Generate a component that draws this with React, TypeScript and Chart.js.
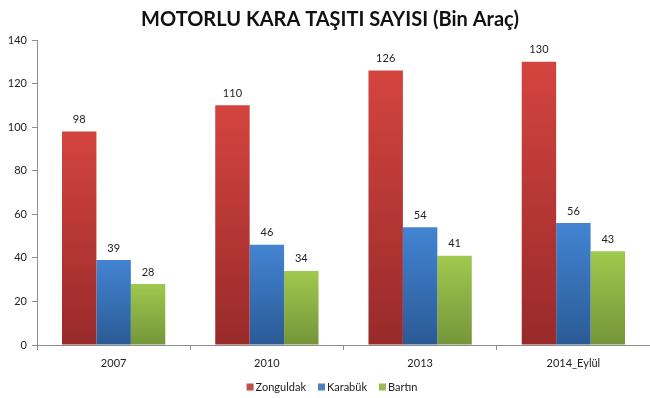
import React, { useEffect, useRef } from 'react';
import { Chart, registerables } from 'chart.js';

Chart.register(...registerables);

const title = 'MOTORLU KARA TAŞITI SAYISI (Bin Araç)';
const categories = ['2007', '2010', '2013', '2014_Eylül'];
const seriesNames = ['Zonguldak', 'Karabük', 'Bartın'];
const zonguldak = [98, 110, 126, 130];
const karabuk = [39, 46, 54, 56];
const bartin = [28, 34, 41, 43];
const yMin = 0;
const yMax = 140;
const yStep = 20;

const FONT = 'Lato, "Open Sans", sans-serif';
const gradients = [
  ['#d4443f', '#982a2a'],
  ['#4384d2', '#2a5a95'],
  ['#a0c94e', '#74953a'],
];
const legendColors = ['#c0504d', '#4f81bd', '#9bbb59'];

function barFill(idx: number) {
  return (ctx: any) => {
    const chart = ctx.chart;
    const y = chart.scales && chart.scales.y;
    if (!y || ctx.type !== 'data') return legendColors[idx];
    const v = ctx.raw as number;
    const top = y.getPixelForValue(v);
    const bottom = y.getPixelForValue(0);
    if (!isFinite(top) || !isFinite(bottom) || top === bottom) return legendColors[idx];
    const g = chart.ctx.createLinearGradient(0, top, 0, bottom);
    g.addColorStop(0, gradients[idx][0]);
    g.addColorStop(1, gradients[idx][1]);
    return g;
  };
}

const valueLabels = {
  id: 'valueLabels',
  afterDatasetsDraw(chart: any) {
    const ctx = chart.ctx;
    ctx.save();
    ctx.font = `11px ${FONT}`;
    ctx.fillStyle = '#222';
    ctx.textAlign = 'center';
    ctx.textBaseline = 'middle';
    chart.data.datasets.forEach((ds: any, di: number) => {
      const meta = chart.getDatasetMeta(di);
      meta.data.forEach((el: any, i: number) => {
        ctx.fillText(String(ds.data[i]), el.x, el.y - 12);
      });
    });
    ctx.restore();
  },
};

const titleAndLegend = {
  id: 'titleAndLegend',
  afterDraw(chart: any) {
    const ctx = chart.ctx;
    ctx.save();
    ctx.font = `bold 20px ${FONT}`;
    ctx.fillStyle = '#111';
    ctx.textAlign = 'center';
    ctx.textBaseline = 'middle';
    ctx.fillText(title, 330, 20);

    ctx.font = `11px ${FONT}`;
    ctx.textAlign = 'left';
    const box = 7;
    const gap = 2;
    const spacing = 12;
    const widths = seriesNames.map((n) => box + gap + ctx.measureText(n).width);
    const total = widths.reduce((a, b) => a + b, 0) + spacing * (seriesNames.length - 1);
    let x = 332 - total / 2;
    const yc = 387;
    seriesNames.forEach((n, i) => {
      ctx.fillStyle = legendColors[i];
      ctx.fillRect(x, yc - box / 2, box, box);
      ctx.fillStyle = '#222';
      ctx.fillText(n, x + box + gap, yc);
      x += widths[i] + spacing;
    });
    ctx.restore();
  },
};

export default function App() {
  const ref = useRef<HTMLCanvasElement | null>(null);
  useEffect(() => {
    if (!ref.current) return;
    const chart = new Chart(ref.current, {
      type: 'bar',
      data: {
        labels: categories,
        datasets: [zonguldak, karabuk, bartin].map((d, i) => ({
          label: seriesNames[i],
          data: d,
          backgroundColor: barFill(i),
          borderWidth: 0,
          categoryPercentage: 0.674,
          barPercentage: 1.0,
        })),
      },
      options: {
        responsive: false,
        maintainAspectRatio: false,
        animation: false,
        layout: { padding: { top: 40, left: 0, right: -6, bottom: 0 } },
        plugins: {
          legend: { display: false },
          title: { display: false },
          tooltip: { enabled: false },
        },
        scales: {
          x: {
            offset: true,
            grid: {
              display: true,
              drawOnChartArea: false,
              drawTicks: true,
              tickLength: 5,
              color: '#8c8c8c',
              offset: true,
            },
            border: { display: true, color: '#8c8c8c' },
            ticks: { font: { family: FONT, size: 11 }, color: '#222', padding: 7, maxRotation: 0 },
            afterFit: (s: any) => {
              s.height = 53;
            },
          },
          y: {
            min: yMin,
            max: yMax,
            ticks: { stepSize: yStep, font: { family: FONT, size: 11 }, color: '#222', padding: 5 },
            grid: {
              display: true,
              drawOnChartArea: false,
              drawTicks: true,
              tickLength: 5,
              color: '#8c8c8c',
            },
            border: { display: true, color: '#8c8c8c' },
            afterFit: (s: any) => {
              s.width = 37;
            },
          },
        },
      },
      plugins: [valueLabels, titleAndLegend],
    });
    return () => chart.destroy();
  }, []);
  return (
    <div style={{ position: 'absolute', left: 0, top: 0, width: 650, height: 398, background: '#fff' }}>
      <canvas ref={ref} width={650} height={398} />
    </div>
  );
}
